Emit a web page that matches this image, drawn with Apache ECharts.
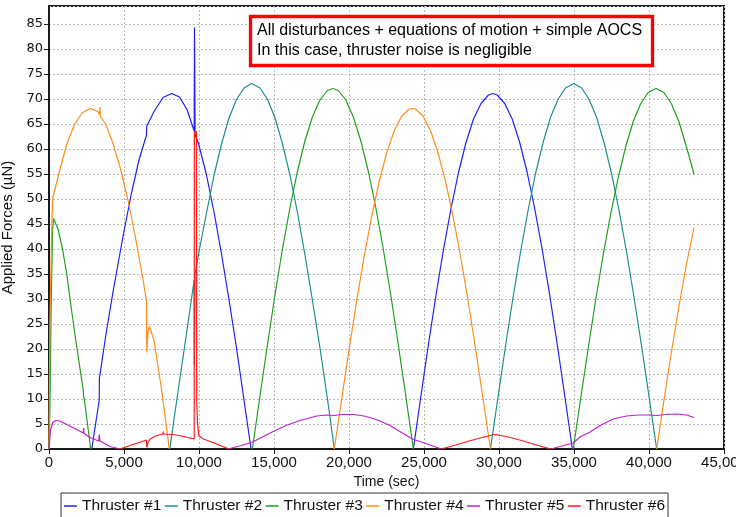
<!DOCTYPE html>
<html><head><meta charset="utf-8">
<script src="https://cdn.jsdelivr.net/npm/echarts@6/dist/echarts.min.js"></script>
<style>html,body{margin:0;padding:0;background:#fff}#c{width:736px;height:517px}</style>
</head><body><div id="c"></div>
<script>
// ---- data (time in s, force in µN); null = gap (thruster off, drawn on axis) ----
const seriesNames = ['Thruster #1','Thruster #2','Thruster #3','Thruster #4','Thruster #5','Thruster #6'];
const seriesColors = ['#1f1fff','#1a8f8f','#1ea01e','#ff8c1a','#bb22cc','#ff1a1a'];

const t1 = [2850,3350,3360,3800,4300,4950,5500,6000,6500,6510,7000,7600,8180,8700,9200,9680,9700,9740,9950,10500,11000,11500,12000,12500,13000,13470,
  18000,
  24290,24800,25300,25800,26300,26800,27300,27800,28300,28800,29300,29590,29880,30380,30880,31380,31880,32380,32880,33380,33880,34380,34890];
const v1 = [0,9.8,14.1,23,32,42.8,51.2,57.8,62.8,64.5,67.5,70.3,71.1,70.4,67.9,63.6,84.3,62.8,61.3,54.8,47.4,39.0,29.9,20.2,9.8,0,
  null,
  0,10.7,21.0,30.8,39.9,48.1,55.3,61.3,66.0,69.1,70.8,71.1,70.8,69.1,66.0,61.3,55.3,48.1,39.9,30.8,21.0,10.7,0];

const t2 = [8050,8600,9100,9680,9690,9740,10000,10500,11000,11500,12000,12500,13000,13500,14070,14570,15070,15570,16070,16570,17070,17570,18070,18570,19020,
  24000,
  29430,29930,30430,30930,31430,31930,32430,32930,33430,33930,34430,34970,35510,36010,36510,37010,37510,38010,38510,39010,39510,40010,40510];
const v2 = [0,11.5,21.7,33.8,16.8,35.0,39.5,47.2,54.7,61.0,66.2,69.9,72.2,73.1,72.2,69.9,66.2,61.0,54.7,47.2,38.7,29.6,20.1,9.9,0,
  null,
  0,10.3,20.5,30.2,39.3,47.6,55.0,61.2,66.3,69.9,72.2,73.1,72.2,69.9,66.3,61.2,55.0,47.6,39.3,30.2,20.5,10.3,0];

const t3 = [0,60,150,240,300,380,600,900,1180,1500,1845,2290,2300,2355,2780,
  8000,
  13560,14060,14560,15060,15560,16060,16560,17060,17560,18060,18560,18925,19290,19790,20290,20790,21290,21790,22290,22790,23290,23790,24290,
  30000,
  34950,35450,35950,36450,36950,37450,37950,38450,38950,39450,39950,40470,40990,41490,41990,42490,43000];
const v3 = [0,8,30,44,46.1,46.0,44,40,35.1,27.8,20.5,11.6,10.6,9.9,0,
  null,
  0,10.5,20.8,30.7,39.9,48.2,55.5,61.6,66.4,69.8,71.7,72.1,71.7,69.8,66.4,61.6,55.5,48.2,39.9,30.7,20.8,10.5,0,
  null,
  0,10.2,20.2,29.9,38.9,47.1,54.3,60.5,65.5,69.1,71.3,72.1,71.3,69.1,65.5,60.5,55.0];

const t4 = [0,50,200,250,260,735,1200,1700,2200,2735,3270,3380,3400,3420,3770,4270,4770,5270,5770,6270,6500,6515,6600,6700,6800,7000,7500,8020,
  13000,
  19020,19520,20020,20520,21020,21520,22020,22520,23020,23520,24020,24225,24430,24930,25430,25930,26430,26930,27430,27930,28430,28930,29430,
  35000,
  40510,41000,41500,42000,42500,43000];
const v4 = [0,24,46.5,46.5,50.3,56.0,61.1,64.9,67.2,68.1,67.5,66.8,68.4,66.5,65.0,61.1,56.0,49.7,42.2,33.9,29.5,19.3,23.5,24.5,24.1,21.7,12.0,0,
  null,
  0,10.2,20.2,29.8,38.7,46.6,53.6,59.3,63.7,66.6,68.0,68.1,68.0,66.6,63.7,59.3,53.6,46.6,38.7,29.8,20.2,10.2,0,
  null,
  0,9.8,19.5,28.6,37.0,44.3];

const t5 = [0,100,250,450,700,1180,1845,2280,2310,2340,2800,3320,3350,3400,3510,4070,4730,
  8000,
  11950,12700,13510,14230,14950,15800,16730,17850,18500,19020,19500,20290,21000,21620,22070,22730,23500,24290,24730,25500,26150,
  30000,
  33450,34200,34950,35400,36070,36800,37620,38500,39300,40000,40500,41100,41840,42500,43000];
const v5 = [0,3.8,5.3,5.7,5.6,4.9,3.9,3.2,4.2,3.1,2.2,1.6,2.9,1.6,1.3,0.5,0,
  null,
  0,0.6,1.3,2.4,3.5,4.7,5.7,6.6,6.8,6.7,6.9,6.9,6.6,6.1,5.6,4.7,3.3,1.9,1.5,0.7,0,
  null,
  0,0.6,1.2,2.4,3.4,4.8,6.0,6.6,6.8,6.8,6.7,6.9,7.0,6.8,6.3];

const t6 = [4730,5600,6500,6520,6600,6750,7100,7600,7620,7650,8290,9000,9680,9690,9830,9845,9900,10000,10300,11000,11500,12000,
  20000,
  26150,27000,28000,29000,29700,30500,31500,32500,33450];
const v6 = [0,0.9,1.8,0.3,1.3,2.0,2.6,3.0,3.5,3.0,2.9,2.5,2.0,63.5,63.5,10.5,5.0,2.6,2.0,1.2,0.6,0,
  null,
  0,0.7,1.6,2.4,2.9,2.5,1.7,0.8,0];

const xTicks = [0,5000,10000,15000,20000,25000,30000,35000,40000,45000];
const yTicks = [0,5,10,15,20,25,30,35,40,45,50,55,60,65,70,75,80,85];
const noteLines = ['All disturbances + equations of motion + simple AOCS','In this case, thruster noise is negligible'];

const allT = [t1,t2,t3,t4,t5,t6];
const allV = [v1,v2,v3,v4,v5,v6];

const chart = echarts.init(document.getElementById('c'), null, {renderer:'canvas'});
const series = seriesNames.map((name, k) => ({
  name, type:'line', symbol:'none', showSymbol:false, connectNulls:false,
  lineStyle:{color:seriesColors[k], width:1.2}, itemStyle:{color:seriesColors[k]},
  animation:false,
  data: allT[k].map((t,i) => [t, allV[k][i] === null ? '-' : allV[k][i]])
}));

const fmtX = v => v.toLocaleString('en-US');
chart.setOption({
  animation:false,
  backgroundColor:'#fff',
  grid:{left:49, right:12, top:6, bottom:68, containLabel:false, outerBoundsMode:'none',
    show:true, borderColor:'#1a1a1a', borderWidth:2, backgroundColor:'transparent'},
  xAxis:{type:'value', min:xTicks[0], max:xTicks[xTicks.length-1], interval:5000,
    name:'Time (sec)', nameLocation:'middle', nameGap:24,
    nameTextStyle:{fontFamily:'Liberation Sans', fontSize:14, color:'#111'},
    axisLine:{show:true, lineStyle:{color:'#1a1a1a', width:2}},
    axisTick:{show:true, length:5, lineStyle:{color:'#1a1a1a'}},
    axisLabel:{formatter: v => xTicks.includes(v) ? fmtX(v) : '', fontFamily:'Liberation Sans', fontSize:15, color:'#111', margin:6, hideOverlap:false},
    splitLine:{show:true, lineStyle:{color:'#b8b8b8', type:[2,2], width:1}}
  },
  yAxis:{type:'value', min:0, max:88.6, interval:5,
    name:'Applied Forces (µN)', nameLocation:'middle', nameGap:28,
    nameTextStyle:{fontFamily:'Liberation Sans', fontSize:15, color:'#111'},
    axisLine:{show:true, lineStyle:{color:'#1a1a1a', width:2}},
    axisTick:{show:true, length:5, lineStyle:{color:'#1a1a1a'}},
    axisLabel:{formatter: v => yTicks.includes(v) ? String(v) : '', showMaxLabel:false, fontFamily:'DejaVu Sans', fontSize:13, color:'#111', margin:6},
    splitLine:{show:true, lineStyle:{color:'#b8b8b8', type:[2,2], width:1}}
  },
  legend:{left:61, top:493, orient:'horizontal', icon:'rect', itemWidth:13, itemHeight:1.5, itemGap:3.5,
    padding:[5,3,8,3], borderColor:'#333', borderWidth:1,
    textStyle:{fontFamily:'Liberation Sans', fontSize:15.5, color:'#111'},
    data: seriesNames},
  graphic:[
    {type:'rect', shape:{x:250.5, y:16.5, width:402, height:49}, style:{fill:'#fff', stroke:'#ff0000', lineWidth:3.3}, z:100},
    {type:'text', x:257, y:21, z:101, style:{text:noteLines.join('\n'), font:'16px "Liberation Sans"', fill:'#000', lineHeight:20}}
  ],
  series
});
</script></body></html>
